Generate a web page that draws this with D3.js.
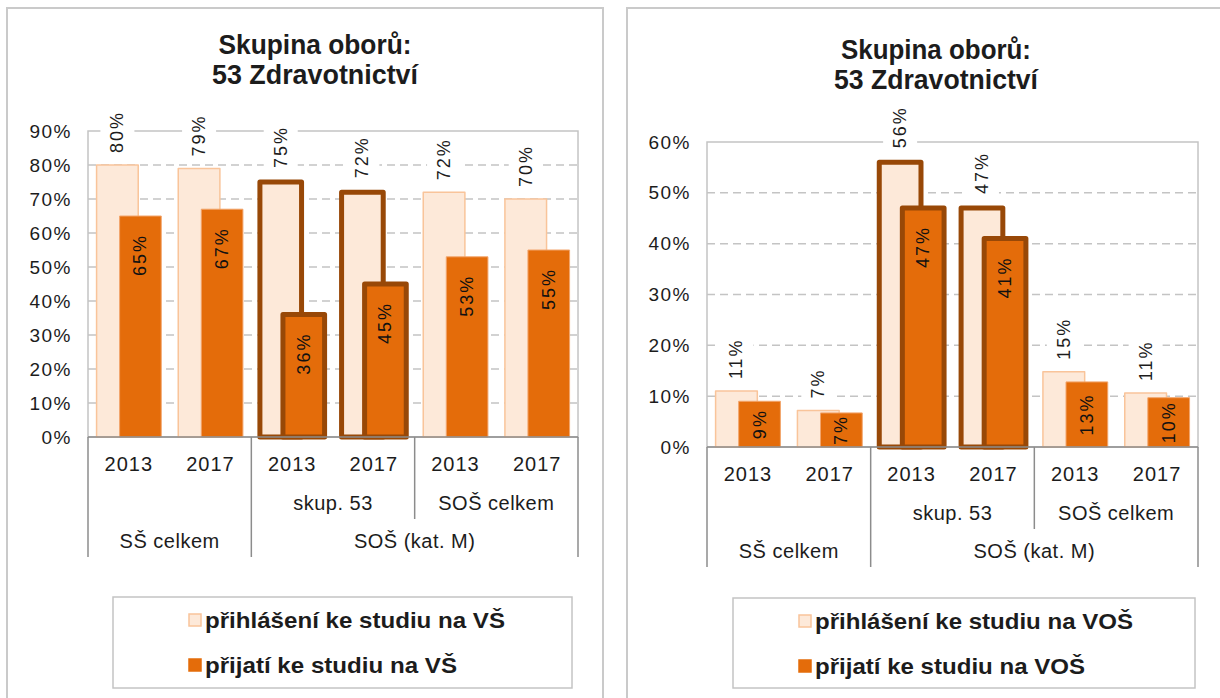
<!DOCTYPE html>
<html><head><meta charset="utf-8">
<script src="https://cdn.jsdelivr.net/npm/d3@7"></script>
<style>
body{margin:0;background:#fff}
svg{display:block}
text{font-family:"Liberation Sans",Arial,sans-serif}
</style>
</head><body>
<script>
// ---------- data ----------
const titleLines = ["Skupina oborů:", "53 Zdravotnictví"];
const years = ["2013", "2017", "2013", "2017", "2013", "2017"];
const subGroups = [{label: "", from: 0, to: 2}, {label: "skup. 53", from: 2, to: 4}, {label: "SOŠ celkem", from: 4, to: 6}];
const mainGroups = [{label: "SŠ celkem", from: 0, to: 2}, {label: "SOŠ (kat. M)", from: 2, to: 6}];
const highlighted = [false, false, true, true, false, false];

const vsApplied  = [0.80, 0.79, 0.75, 0.72, 0.72, 0.70];
const vsAdmitted = [0.65, 0.67, 0.36, 0.45, 0.53, 0.55];
const vsTicks = [0, 0.1, 0.2, 0.3, 0.4, 0.5, 0.6, 0.7, 0.8, 0.9];
const vsLegend = ["přihlášení ke studiu na VŠ", "přijatí ke studiu na VŠ"];

const vosApplied  = [0.11, 0.072, 0.56, 0.47, 0.148, 0.106];
const vosAdmitted = [0.09, 0.067, 0.47, 0.41, 0.128, 0.097];
const vosTicks = [0, 0.1, 0.2, 0.3, 0.4, 0.5, 0.6];
const vosLegend = ["přihlášení ke studiu na VOŠ", "přijatí ke studiu na VOŠ"];

// ---------- style ----------
const C = {
  lightFill: "#FDE9D9", lightStroke: "#F9C49A",
  darkFill: "#E46C0A", darkStroke: "#F2A56C",
  hlStroke: "#984807",
  grid: "#c4c4c4", axis: "#8c8c8c", frame: "#cacaca", text: "#1c1c1c"
};

const W = 1220, H = 698;
const svg = d3.select("body").append("svg").attr("width", W).attr("height", H);

function drawChart(cfg) {
  const g = svg.append("g");
  const {plot} = cfg;
  // frame
  g.append("rect").attr("x", cfg.frame[0]).attr("y", cfg.frame[1])
    .attr("width", cfg.frame[2] - cfg.frame[0]).attr("height", cfg.frame[3] - cfg.frame[1])
    .attr("fill", "none").attr("stroke", C.frame).attr("stroke-width", 2);
  // title
  titleLines.forEach((t, i) => {
    g.append("text").attr("x", cfg.titleCx).attr("y", cfg.titleY[i])
      .attr("text-anchor", "middle").attr("font-size", 27).attr("font-weight", "bold")
      .style("font-family", '"Liberation Sans Narrow","Arial Narrow","Liberation Sans",sans-serif')
      .attr("textLength", cfg.titleW[i]).attr("lengthAdjust", "spacingAndGlyphs")
      .attr("fill", C.text).text(t);
  });

  const x = d3.scaleBand().domain(d3.range(years.length)).range([plot.x0, plot.x1]);
  const y = d3.scaleLinear().domain([0, cfg.max]).range([plot.y0, plot.yTop]);
  const bw = x.bandwidth();

  // gridlines
  g.append("g").selectAll("line").data(cfg.ticks.filter(t => t > 0 && t < cfg.max - 1e-9)).join("line")
    .attr("x1", plot.x0).attr("x2", plot.x1).attr("y1", d => y(d)).attr("y2", d => y(d))
    .attr("stroke", C.grid).attr("stroke-width", 1.5).attr("stroke-dasharray", "8,5");
  // plot border
  g.append("rect").attr("x", plot.x0).attr("y", y(cfg.max)).attr("width", plot.x1 - plot.x0)
    .attr("height", plot.y0 - y(cfg.max)).attr("fill", "none").attr("stroke", C.grid).attr("stroke-width", 1.5);

  // y axis
  const ya = g.append("g").attr("transform", `translate(${plot.x0},0)`)
    .call(d3.axisLeft(y).tickValues(cfg.ticks).tickFormat(d3.format(".0%")).tickSize(0).tickPadding(16));
  ya.select(".domain").remove();
  ya.selectAll("text").attr("font-size", 19).attr("letter-spacing", 1.5)
    .style("font-family", '"Liberation Sans",Arial,sans-serif').attr("fill", C.text);

  const data = years.map((yr, i) => ({i, a: cfg.applied[i], b: cfg.admitted[i], hl: highlighted[i]}));
  const lightX = d => x(d.i) + bw * 0.105;
  const darkX = d => x(d.i) + bw * 0.387;
  const barW = bw * 0.51;

  // bars
  const bars = g.append("g");
  data.forEach(d => {
    bars.append("rect").attr("x", lightX(d)).attr("width", barW)
      .attr("y", y(d.a)).attr("height", plot.y0 - y(d.a))
      .attr("fill", C.lightFill).attr("stroke", d.hl ? C.hlStroke : C.lightStroke)
      .attr("stroke-width", d.hl ? 5 : 1.5).attr("stroke-linejoin", "round");
    bars.append("rect").attr("x", darkX(d)).attr("width", barW)
      .attr("y", y(d.b)).attr("height", plot.y0 - y(d.b))
      .attr("fill", C.darkFill).attr("stroke", d.hl ? C.hlStroke : C.darkStroke)
      .attr("stroke-width", d.hl ? 5 : 1).attr("stroke-linejoin", "round");
  });

  // x axis line
  g.append("line").attr("x1", plot.x0).attr("x2", plot.x1).attr("y1", plot.y0).attr("y2", plot.y0)
    .attr("stroke", C.axis).attr("stroke-width", 1.5);

  const fmt = v => Math.round(v * 100) + "%";
  // labels for applied (outside end, white box)
  data.forEach(d => {
    const cx = lightX(d) + barW / 2;
    const lg = g.append("g").attr("transform", `translate(${cx},${y(d.a) - (d.hl ? 14 : 12)}) rotate(-90)`);
    const bg = lg.append("rect").attr("fill", "#fff");
    const t = lg.append("text").attr("x", 0).attr("y", 0).attr("text-anchor", "start")
      .attr("dominant-baseline", "central").attr("font-size", 18).attr("letter-spacing", 2)
      .attr("fill", C.text).text(fmt(d.a));
    const len = t.node().getComputedTextLength();
    bg.attr("x", -4).attr("y", -17).attr("width", len + 6).attr("height", 34);
  });
  // labels for admitted (inside end)
  data.forEach(d => {
    const cx = darkX(d) + barW / 2;
    const t = g.append("text").attr("text-anchor", "end")
      .attr("dominant-baseline", "central").attr("font-size", 18).attr("letter-spacing", 2)
      .attr("fill", "#111").text(fmt(d.b));
    const len = t.node().getComputedTextLength();
    const top = Math.min(y(d.b) + 18, (y(d.b) + plot.y0) / 2 - len / 2);
    t.attr("transform", `translate(${cx},${top}) rotate(-90)`);
  });

  // category axis
  const cat = g.append("g");
  cat.selectAll("text.yr").data(years).join("text").attr("class", "yr")
    .attr("x", (d, i) => x(i) + bw / 2).attr("y", plot.y0 + 34)
    .attr("text-anchor", "middle").attr("font-size", 20).attr("letter-spacing", 1)
    .attr("fill", C.text).text(d => d);
  const spanC = s => (x(s.from) + x(s.to - 1) + bw) / 2;
  cat.selectAll("text.sub").data(subGroups).join("text").attr("class", "sub")
    .attr("x", spanC).attr("y", plot.y0 + 73)
    .attr("text-anchor", "middle").attr("font-size", 20).attr("letter-spacing", 0.5)
    .attr("fill", C.text).text(d => d.label);
  cat.selectAll("text.main").data(mainGroups).join("text").attr("class", "main")
    .attr("x", spanC).attr("y", plot.y0 + 111)
    .attr("text-anchor", "middle").attr("font-size", 20).attr("letter-spacing", 0.5)
    .attr("fill", C.text).text(d => d.label);
  const longB = mainGroups.map(m => m.from).concat([years.length]);
  const shortB = subGroups.map(s => s.from).filter(f => !longB.includes(f));
  cat.selectAll("line.long").data(longB).join("line").attr("class", "long")
    .attr("x1", d => d === years.length ? plot.x1 : x(d)).attr("x2", d => d === years.length ? plot.x1 : x(d))
    .attr("y1", plot.y0).attr("y2", plot.y0 + 120).attr("stroke", C.axis).attr("stroke-width", 1.5);
  cat.selectAll("line.short").data(shortB).join("line").attr("class", "short")
    .attr("x1", d => x(d)).attr("x2", d => x(d))
    .attr("y1", plot.y0).attr("y2", plot.y0 + 82).attr("stroke", C.axis).attr("stroke-width", 1.5);

  // legend
  const lb = cfg.legendBox;
  const lgd = g.append("g");
  lgd.append("rect").attr("x", lb[0]).attr("y", lb[1]).attr("width", lb[2] - lb[0]).attr("height", lb[3] - lb[1])
    .attr("fill", "#fff").attr("stroke", C.grid).attr("stroke-width", 1.5);
  const sw = [[C.lightFill, C.lightStroke], [C.darkFill, C.darkFill]];
  cfg.legend.forEach((label, i) => {
    const sy = lb[1] + 17 + i * 45;
    lgd.append("rect").attr("x", lb[0] + cfg.legendDx).attr("y", sy).attr("width", 12).attr("height", 12)
      .attr("fill", sw[i][0]).attr("stroke", sw[i][1]).attr("stroke-width", 1.5);
    lgd.append("text").attr("x", lb[0] + cfg.legendDx + 16).attr("y", sy + 14)
      .attr("font-size", 22).attr("font-weight", "bold").attr("fill", C.text)
      .attr("textLength", cfg.legendW[i]).attr("lengthAdjust", "spacingAndGlyphs").text(label);
  });
}

drawChart({
  frame: [7, 8, 603, 760],
  titleCx: 315, titleY: [54, 84], titleW: [193, 206],
  plot: {x0: 88, x1: 578, y0: 437, yTop: 131},
  max: 0.9, ticks: vsTicks, applied: vsApplied, admitted: vsAdmitted,
  legend: vsLegend, legendBox: [113, 597, 572, 688], legendDx: 76, legendW: [300, 252]
});
drawChart({
  frame: [627, 8, 1224, 760],
  titleCx: 936, titleY: [59, 89], titleW: [190, 204],
  plot: {x0: 707, x1: 1198, y0: 447, yTop: 142},
  max: 0.6, ticks: vosTicks, applied: vosApplied, admitted: vosAdmitted,
  legend: vosLegend, legendBox: [733, 598, 1195, 688], legendDx: 66, legendW: [318, 270]
});
</script>
</body></html>
